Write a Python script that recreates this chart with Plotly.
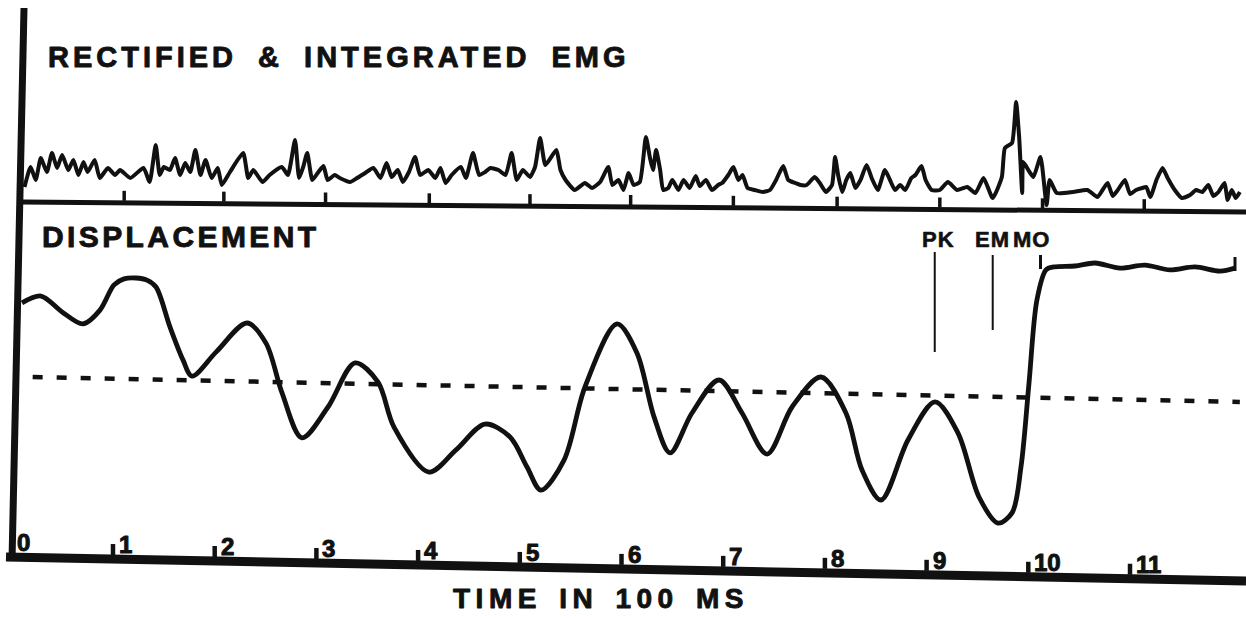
import plotly.graph_objects as go

W, H = 1246, 618

# ---------------- data ----------------
# Displacement trace: time (units of 100 ms) and displacement (arbitrary units)
disp_t = [0.105, 0.292, 0.499, 0.705, 0.872, 1.010, 1.108, 1.226, 1.334, 1.423,
          1.560, 1.688, 1.777, 2.013, 2.318, 2.504, 2.662, 2.858, 3.114, 3.380,
          3.606, 3.763, 4.107, 4.373, 4.658, 4.904, 5.071, 5.208, 5.435, 5.641,
          5.956, 6.152, 6.320, 6.477, 6.693, 6.959, 7.185, 7.431, 7.677, 7.962,
          8.207, 8.365, 8.552, 8.817, 9.083, 9.309, 9.515, 9.702, 9.840, 9.928,
          10.007, 10.085, 10.174, 10.253, 10.459, 10.656, 10.902, 11.147, 11.393,
          11.639, 11.885, 12.032]
disp_v = [8.57, 8.80, 8.27, 7.87, 8.33, 9.17, 9.37, 9.40, 9.33, 9.10,
          7.77, 6.67, 6.13, 6.93, 7.90, 7.23, 5.57, 4.07, 5.10, 6.57,
          5.93, 4.43, 2.93, 3.67, 4.53, 4.10, 3.10, 2.33, 3.33, 5.77,
          7.87, 6.90, 4.77, 3.57, 4.90, 6.00, 4.90, 3.53, 5.10, 6.10,
          4.90, 3.00, 2.00, 4.00, 5.27, 4.23, 2.10, 1.23, 1.57, 3.10,
          5.90, 8.67, 9.67, 9.77, 9.80, 9.90, 9.73, 9.83, 9.67,
          9.77, 9.63, 9.73]

# Dotted reference level across the displacement panel
level_t = [0.21, 12.08]
level_v = [6.10, 5.27]

# Rectified & integrated EMG: time (ms) and amplitude (arbitrary units)
emg_t_ms = [13, 19, 24, 29, 35, 40, 45, 50, 56, 61, 66, 71, 75, 82, 87, 95, 102, 107, 117, 130,
            136, 142, 146, 150, 156, 161, 166, 171, 176, 181, 186, 191, 197, 203, 207, 215, 228, 233, 238, 247,
            254, 266, 272, 279, 283, 287, 291, 296, 302, 307, 311, 318, 323, 333, 340, 348, 356, 363, 369, 374,
            380, 385, 391, 397, 402, 410, 417, 422, 427, 433, 442, 447, 454, 460, 466, 471, 479, 486, 492, 497,
            503, 510, 515, 520, 525, 529, 536, 540, 545, 554, 564, 571, 579, 587, 591, 597, 602, 607, 612, 618,
            624, 628, 631, 634, 638, 641, 646, 650, 656, 661, 667, 673, 677, 683, 689, 695, 699, 705, 710, 715,
            719, 724, 731, 739, 746, 752, 759, 764, 771, 776, 782, 790, 795, 801, 807, 810, 813, 817, 821, 825,
            830, 835, 841, 846, 852, 859, 864, 869, 874, 879, 885, 889, 895, 899, 905, 913, 921, 930, 940, 948,
            956, 965, 974, 977, 984, 988, 991, 994, 995, 1000, 1005, 1012, 1018, 1021, 1028, 1044, 1058, 1068, 1073, 1078,
            1083, 1088, 1095, 1100, 1106, 1112, 1116, 1120, 1126, 1132, 1137, 1144, 1151, 1159, 1165, 1171, 1177, 1182, 1187, 1193,
            1196, 1200, 1204, 1208]
emg_a = [20, 40, 27, 49, 35, 54, 39, 52, 37, 47, 32, 45, 35, 47, 29, 39, 32, 37, 29, 39,
         25, 62, 32, 40, 37, 49, 32, 44, 35, 57, 32, 47, 29, 39, 22, 35, 54, 29, 37, 25,
         32, 40, 32, 67, 29, 40, 54, 27, 35, 41, 27, 32, 29, 25, 29, 34, 39, 29, 44, 30,
         37, 25, 35, 50, 32, 37, 29, 39, 24, 32, 40, 29, 54, 32, 35, 39, 37, 32, 54, 27,
         37, 30, 40, 69, 42, 47, 57, 37, 27, 17, 24, 19, 25, 40, 22, 27, 17, 34, 22, 25,
         70, 49, 37, 57, 37, 17, 19, 27, 17, 27, 19, 31, 21, 27, 17, 22, 24, 32, 40, 27,
         32, 19, 17, 15, 17, 27, 41, 27, 24, 22, 22, 30, 24, 15, 22, 50, 32, 15, 27, 34,
         19, 27, 42, 29, 17, 37, 27, 17, 22, 17, 29, 32, 41, 27, 17, 17, 25, 17, 20, 14,
         29, 9, 30, 59, 64, 105, 70, 14, 45, 37, 30, 50, 2, 27, 14, 15, 17, 10, 17, 24,
         11, 17, 27, 13, 17, 19, 20, 10, 27, 39, 29, 17, 9, 12, 17, 15, 22, 11, 15, 24,
         7, 17, 9, 15]

# Time-scale labels (units of 100 ms) and EMG timing marks (ms)
tick_vals = [0, 1, 2, 3, 4, 5, 6, 7, 8, 9, 10, 11]
tick_text = ["0", "1", "2", "3", "4", "5", "6", "7", "8", "9", "10", "11"]
emg_marks_ms = [111, 209, 309, 411, 510, 609, 710, 812, 913, 1014, 1114]

# Event markers (units of 100 ms)
event_names = ["PK", "EM", "MO"]
event_t = [9.08, 9.65, 10.12]

# ---------------- geometry helpers ----------------
X0_PX, PX_PER = 11.3, 101.7
XR = [-X0_PX / PX_PER, (W - X0_PX) / PX_PER]


def t2px(t):
    return X0_PX + PX_PER * t


def px2p(px):
    return px / W


def py2p(py):
    return 1 - py / H


def axis_py(px):          # sloped bottom time axis (centre line)
    return 557 + 24 * (px - 8) / 1238


def emg_base_py(px):      # sloped EMG baseline
    return 202 + 10 * (px - 22) / 1224


INK = "#111111"
FONT = "Liberation Sans, Arial, Helvetica, sans-serif"

fig = go.Figure()

fig.add_trace(go.Scatter(
    x=[t / 100 for t in emg_t_ms], y=emg_a, mode="lines",
    line=dict(color=INK, width=4, shape="spline", smoothing=0.5), yaxis="y2",
    hoverinfo="skip"))

fig.add_trace(go.Scatter(
    x=disp_t, y=disp_v, mode="lines",
    line=dict(color=INK, width=4.8, shape="spline", smoothing=0.9), hoverinfo="skip"))

fig.add_trace(go.Scatter(
    x=level_t, y=level_v, mode="lines",
    line=dict(color=INK, width=4.5, dash="10px,14px"), hoverinfo="skip"))

shapes = []


def seg(x0, y0, x1, y1, w):
    shapes.append(dict(type="line", xref="paper", yref="paper",
                       x0=px2p(x0), y0=py2p(y0), x1=px2p(x1), y1=py2p(y1),
                       line=dict(color=INK, width=w)))


# frame lines
seg(24, 8, 12, 561, 7)
seg(22, 202, W, 212, 5)
seg(6, 557, W, 581, 9)

# time ticks on the bottom axis
for v in tick_vals[1:]:
    px = t2px(v)
    top = axis_py(px) - 4
    seg(px, top, px, top - 11, 4.5)

# EMG timing marks
for m in emg_marks_ms:
    px = t2px(m / 100)
    b = emg_base_py(px) - 2
    seg(px, b, px, b - 10, 3.5)

# event marker lines
pk_px, em_px, mo_px = (t2px(t) for t in event_t)
seg(pk_px, 252, pk_px, 352, 2)
seg(em_px, 255, em_px, 330, 2)
seg(mo_px, 255, mo_px, 269, 3)
seg(1235, 257, 1235, 271, 3)

annotations = []


def label(txt, px, py, size, ls=0, ws=0, sw=0.9):
    style = ("letter-spacing:%spx;word-spacing:%spx;stroke:%s;stroke-width:%spx;"
             "stroke-linejoin:round" % (ls, ws, INK, sw))
    annotations.append(dict(
        text="<b><span style='%s'>%s</span></b>" % (style, txt),
        xref="paper", yref="paper", x=px2p(px), y=py2p(py),
        xanchor="left", yanchor="middle", showarrow=False,
        font=dict(family=FONT, size=size, color=INK)))


label("RECTIFIED &amp; INTEGRATED EMG", 46, 57, 29, ls=4, ws=9)
label("DISPLACEMENT", 40, 236, 30, ls=3.4)
label("TIME IN 100 MS", 451, 598, 28, ls=5.5, ws=4)

for name, px in zip(event_names, [920, 973, 1011]):
    label(name, px, 239, 22, ls=1, sw=0.6)

for v, txt in zip(tick_vals, tick_text):
    px = t2px(v)
    top = axis_py(px) - 4.5
    label(txt, px + 4, top - 10, 24, sw=1)

fig.update_layout(
    width=W, height=H, margin=dict(l=0, r=0, t=0, b=0),
    paper_bgcolor="white", plot_bgcolor="white", showlegend=False,
    xaxis=dict(range=XR, domain=[0, 1], visible=False, fixedrange=True),
    yaxis=dict(range=[-1.9333, 11.6667], domain=[0, 0.66019], visible=False),
    yaxis2=dict(range=[-3, 207], domain=[0.66019, 1], visible=False, anchor="x"),
    shapes=shapes, annotations=annotations)

fig.write_html("out.html")
